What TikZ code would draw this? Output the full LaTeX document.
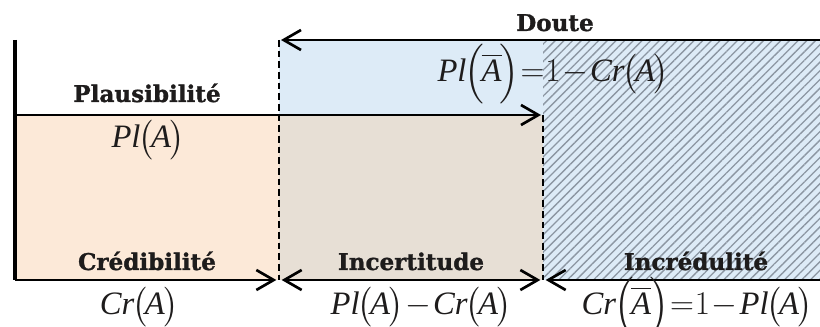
\documentclass[tikz,border=0pt]{standalone}
\usepackage{amsmath}
\usepackage{fontspec}
\setmainfont{Liberation Serif}
\newfontfamily\labfont{DejaVu Serif}[BoldFeatures={FakeBold=1.2}]
\usetikzlibrary{arrows.meta,patterns.meta}
\definecolor{orfill}{RGB}{252,233,216}
\definecolor{blfill}{RGB}{221,235,247}
\definecolor{mixfill}{RGB}{231,223,213}
\definecolor{hatchc}{RGB}{140,150,162}
\definecolor{labc}{RGB}{30,28,28}
\newcommand{\vI}[1]{\textit{#1}}
\newcommand{\tminus}{\mkern1mu{-}\mkern1mu}
\newcommand{\tequal}{\mkern0.5mu{=}\mkern0.5mu}
\newcommand{\argA}{\mkern-1mu\bigl(\mkern-1.5mu\vI{A}\mkern-1mu\bigr)}
\newcommand{\argAbar}{\mkern-1mu\Bigl(\mkern-1.5mu\overline{\vI{A}}\mkern-1mu\Bigr)}
\begin{document}
\begin{tikzpicture}[x=0.75pt,y=-0.75pt,
  lab/.style={font=\labfont\bfseries\fontsize{17.3}{19}\selectfont, text=labc, inner sep=0, anchor=base},
  mth/.style={font=\fontsize{24.5}{27}\selectfont, text=labc, inner sep=0, anchor=base},
  axisline/.style={line width=2.3pt},
  tip/.tip={Straight Barb[length=13pt,width=15pt,line width=2pt]},
  arr/.style={line width=2pt, -tip},
  sep/.style={line width=1.3pt, dash pattern=on 5pt off 3pt}
]
\useasboundingbox (0,0) rectangle (820,327);
\coordinate (TL) at (15,40);
\coordinate (BL) at (15,280);
\coordinate (PL) at (15,115);
\coordinate (D1t) at (279,40);
\coordinate (D1b) at (279,280);
\coordinate (D2t) at (543,115);
\coordinate (D2b) at (543,280);
\coordinate (Rt) at (820,40);
\coordinate (Rb) at (820,280);
% fills
\fill[orfill] (PL) rectangle (D1b);
\fill[mixfill] (279,115) rectangle (D2b);
\fill[blfill] (D1t) rectangle (D2t);
\fill[blfill] (543,40) rectangle (Rb);
\fill[pattern={Lines[angle=45,distance=4.6pt,line width=1pt]}, pattern color=hatchc] (543,40) rectangle (Rb);
% separators
\draw[sep] (D1t) -- (D1b);
\draw[sep] (D2t) -- (D2b);
% axis and arrows
\draw[axisline] (TL) -- (BL);
\draw[arr] (BL) -- ([xshift=-2]D1b);
\draw[arr, tip-tip] ([xshift=2]D1b) -- ([xshift=-2]D2b);
\draw[arr] (Rb) -- ([xshift=2]D2b);
\draw[arr] (Rt) -- ([xshift=1.5]D1t);
\draw[arr] (PL) -- ([xshift=-1.5]D2t);
% labels
\node[lab] (doute) at (555,31) {Doute};
\node[lab] (plaus) at (147,102) {Plausibilité};
\node[mth] (plA) at (148,148) {$\vI{Pl}\argA$};
\node[mth] (plAbar) at (553,82) {$\vI{Pl}\argAbar\tequal 1\tminus\vI{Cr}\argA$};
\node[lab] (cred) at (147,270) {Crédibilité};
\node[mth] (crA) at (139,315) {$\vI{Cr}\argA$};
\node[lab] (incert) at (411,270) {Incertitude};
\node[mth] (diff) at (421,315) {$\vI{Pl}\argA\tminus\vI{Cr}\argA$};
\node[lab] (incred) at (696,270) {Incrédulité};
\node[mth] (crAbar) at (697,315) {$\vI{Cr}\argAbar\tequal 1\tminus\vI{Pl}\argA$};
\end{tikzpicture}
\end{document}
